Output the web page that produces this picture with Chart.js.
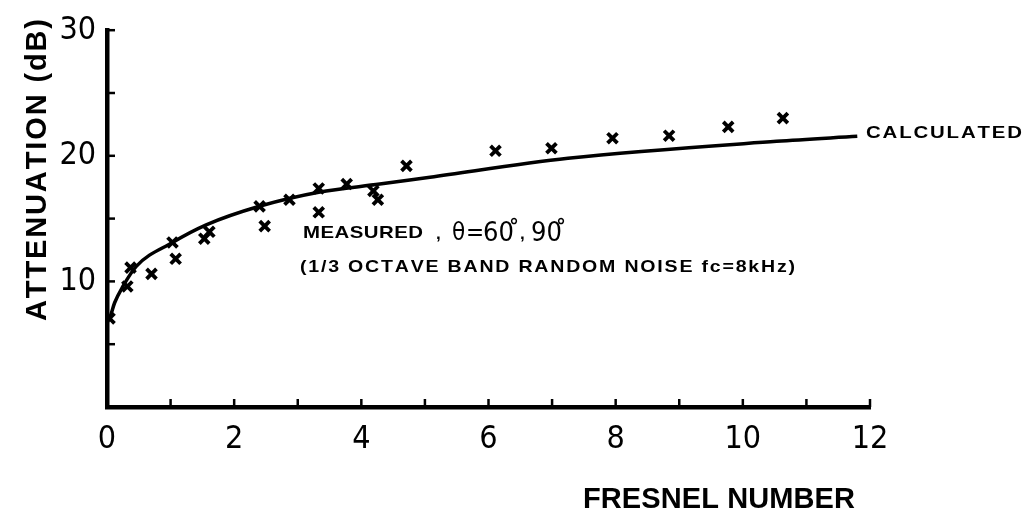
<!DOCTYPE html>
<html>
<head>
<meta charset="utf-8">
<script src="https://cdn.jsdelivr.net/npm/chart.js@4.4.1/dist/chart.umd.min.js"></script>
<style>
  html, body { margin: 0; padding: 0; background: #fff; }
  #wrap { width: 1032px; height: 517px; }
</style>
</head>
<body>
<div id="wrap"><canvas id="c" width="1032" height="517"></canvas></div>
<script>
// Measured attenuation (x marks)
const measuredX = [0.04, 0.32, 0.37, 0.70, 1.03, 1.08, 1.53, 1.61, 2.40, 2.48, 2.87, 3.33, 3.33, 3.77, 4.19, 4.26, 4.71, 6.11, 6.99, 7.95, 8.84, 9.77, 10.63];
const measuredY = [7.05, 9.6, 11.1, 10.6, 13.1, 11.8, 13.4, 13.95, 15.97, 14.4, 16.5, 17.4, 15.5, 17.75, 17.2, 16.5, 19.2, 20.4, 20.6, 21.4, 21.6, 22.3, 23.0];
// Calculated curve
const calculatedX = [0, 0.05, 0.12, 0.25, 0.46, 1.03, 1.56, 2.41, 3.33, 4.29, 5.08, 7.25, 10.53, 11.8];
const calculatedY = [6.7, 7.2, 8.3, 9.6, 11.2, 13.1, 14.5, 16.0, 17.1, 17.75, 18.3, 19.8, 21.15, 21.55];
// Axis ticks
const xTickValues = [0, 2, 4, 6, 8, 10, 12];
const yTickValues = [10, 20, 30];
const xMinorTicks = [1, 2, 3, 4, 5, 6, 7, 8, 9, 10, 11, 12];
const yMinorTicks = [5, 10, 15, 20, 25, 30];

const measuredData = measuredX.map((x, i) => ({ x: x, y: measuredY[i] }));
const calculatedData = calculatedX.map((x, i) => ({ x: x, y: calculatedY[i] }));

const NARROW = "'Liberation Sans Narrow', 'DejaVu Sans Condensed', sans-serif";
const BOLD = "'Liberation Sans', Arial, sans-serif";

// draw text spread to a target width, with optional horizontal stretch
function drawSpaced(ctx, text, x, baseline, target, sx) {
  sx = sx || 1;
  const chars = Array.from(text);
  const widths = chars.map(ch => ctx.measureText(ch).width * sx);
  const total = widths.reduce((a, b) => a + b, 0);
  const extra = chars.length > 1 ? (target - total) / (chars.length - 1) : 0;
  let cx = x;
  chars.forEach((ch, i) => {
    ctx.save();
    ctx.translate(cx, baseline);
    ctx.scale(sx, 1);
    ctx.fillText(ch, 0, 0);
    ctx.restore();
    cx += widths[i] + extra;
  });
}

const annotate = {
  id: 'annotate',
  afterDraw(chart) {
    const ctx = chart.ctx;
    const xs = chart.scales.x, ys = chart.scales.y;
    ctx.save();
    ctx.strokeStyle = '#000';
    ctx.fillStyle = '#000';
    ctx.lineWidth = 2.5;
    const y0 = ys.getPixelForValue(0);
    const x0 = xs.getPixelForValue(0);
    xMinorTicks.forEach(v => {
      const px = xs.getPixelForValue(v);
      ctx.beginPath(); ctx.moveTo(px, y0); ctx.lineTo(px, y0 - 8); ctx.stroke();
    });
    yMinorTicks.forEach(v => {
      const py = ys.getPixelForValue(v);
      ctx.beginPath(); ctx.moveTo(x0, py); ctx.lineTo(x0 + 8, py); ctx.stroke();
    });

    ctx.textAlign = 'left';
    ctx.textBaseline = 'alphabetic';
    // Y axis title
    ctx.save();
    ctx.translate(46, 170);
    ctx.rotate(-Math.PI / 2);
    ctx.font = "bold 29px " + BOLD;
    drawSpaced(ctx, 'ATTENUATION (dB)', -151, 0, 302);
    ctx.restore();
    // X axis title
    ctx.font = "bold 29px " + BOLD;
    drawSpaced(ctx, 'FRESNEL NUMBER', 583, 508, 272);
    // Curve label
    ctx.font = "bold 17px " + BOLD;
    drawSpaced(ctx, 'CALCULATED', 866, 138, 156, 1.2);
    // Measured annotation
    ctx.font = "bold 17px " + BOLD;
    drawSpaced(ctx, 'MEASURED', 303, 238, 120, 1.2);
    ctx.fillText(',', 436, 239);
    ctx.fillText(',', 520, 239);
    ctx.font = "24px " + NARROW;
    ctx.fillText('θ', 452, 240);
    ctx.fillText('=', 466, 240);
    ctx.font = "27px " + NARROW;
    ctx.fillText('60', 483, 241);
    ctx.fillText('90', 531, 241);
    ctx.font = "bold 20px " + BOLD;
    ctx.fillText('°', 510, 232);
    ctx.fillText('°', 557, 232);
    ctx.font = "bold 17px " + BOLD;
    drawSpaced(ctx, '(1/3 OCTAVE BAND RANDOM NOISE fc=8kHz)', 300, 272, 495, 1.15);
    ctx.restore();
  }
};

new Chart(document.getElementById('c'), {
  type: 'scatter',
  data: {
    datasets: [
      {
        label: 'CALCULATED',
        data: calculatedData,
        showLine: true,
        borderColor: '#000',
        borderWidth: 3.5,
        pointRadius: 0,
        cubicInterpolationMode: 'monotone',
        fill: false,
        order: 2
      },
      {
        label: 'MEASURED',
        data: measuredData,
        showLine: false,
        pointStyle: 'crossRot',
        pointRadius: 7,
        borderColor: '#000',
        backgroundColor: '#000',
        borderWidth: 3.8,
        order: 1
      }
    ]
  },
  options: {
    responsive: false,
    animation: false,
    devicePixelRatio: 1,
    layout: { padding: { top: 20, right: 162, left: 0, bottom: 0 } },
    plugins: { legend: { display: false }, tooltip: { enabled: false } },
    scales: {
      x: {
        type: 'linear',
        min: 0, max: 12,
        afterFit(scale) { scale.height = 110; },
        afterBuildTicks(scale) { scale.ticks = xTickValues.map(v => ({ value: v })); },
        grid: { display: false, drawTicks: false },
        border: { display: true, color: '#000', width: 4.5 },
        ticks: {
          color: '#000', padding: 13,
          font: { family: NARROW, size: 32 },
          maxRotation: 0, autoSkip: false
        }
      },
      y: {
        type: 'linear',
        min: 0, max: 30,
        afterFit(scale) { scale.width = 107; },
        afterBuildTicks(scale) { scale.ticks = yTickValues.map(v => ({ value: v })); },
        grid: { display: false, drawTicks: false },
        border: { display: true, color: '#000', width: 4.5 },
        ticks: {
          color: '#000', padding: 11,
          font: { family: NARROW, size: 32 },
          autoSkip: false
        }
      }
    }
  },
  plugins: [annotate]
});
</script>
</body>
</html>
